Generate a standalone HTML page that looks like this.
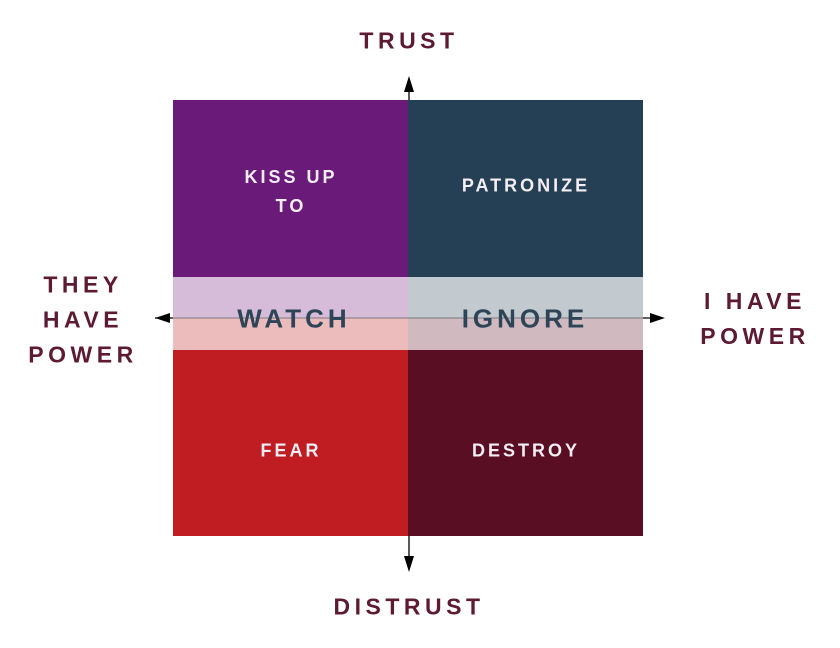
<!DOCTYPE html>
<html><head><meta charset="utf-8"><style>
html,body{margin:0;padding:0;background:#fff;}
body{width:840px;height:648px;position:relative;overflow:hidden;font-family:"Liberation Sans",sans-serif;}
.r{position:absolute;}
.t{position:absolute;transform:translate(-50%,-50%);white-space:nowrap;letter-spacing:3px;text-align:center;font-weight:bold;}
.w{color:#f4eef4;font-size:18px;}
.m{color:#5c1a33;font-size:23px;letter-spacing:4.5px;line-height:35px;}
.b{color:#2e4457;font-size:26px;letter-spacing:4px;}
</style></head><body>
<div class="r" style="left:173px;top:100px;width:235px;height:177px;background:#6a1b7a"></div>
<div class="r" style="left:408px;top:100px;width:235px;height:177px;background:#253f55"></div>
<div class="r" style="left:173px;top:277px;width:235px;height:41px;background:#d7bcd9"></div>
<div class="r" style="left:408px;top:277px;width:235px;height:41px;background:#c2c9cf"></div>
<div class="r" style="left:173px;top:318px;width:235px;height:32px;background:#ecbcbd"></div>
<div class="r" style="left:408px;top:318px;width:235px;height:32px;background:#d0b9bf"></div>
<div class="r" style="left:173px;top:350px;width:235px;height:186px;background:#c01d23"></div>
<div class="r" style="left:408px;top:350px;width:235px;height:186px;background:#5a0e24"></div>
<svg class="r" style="left:0;top:0" width="840" height="648">
<line x1="409" y1="85" x2="409" y2="100" stroke="#000" stroke-width="1.3"/>
<line x1="409" y1="536" x2="409" y2="563" stroke="#000" stroke-width="1.3"/>
<polygon points="409,76 404,92 414,92" fill="#000"/>
<polygon points="409,572 404,556 414,556" fill="#000"/>
<line x1="173" y1="318" x2="643" y2="318" stroke="#7a7a80" stroke-width="1"/>
<line x1="155" y1="318" x2="173" y2="318" stroke="#000" stroke-width="1.3"/>
<line x1="643" y1="318" x2="662" y2="318" stroke="#000" stroke-width="1.3"/>
<polygon points="155,318 170,313 170,323" fill="#000"/>
<polygon points="665,318 650,313 650,323" fill="#000"/>
</svg>
<div class="t w" style="left:291px;top:192px;line-height:29px">KISS UP<br>TO</div>
<div class="t w" style="left:526px;top:186px">PATRONIZE</div>
<div class="t w" style="left:291px;top:451px">FEAR</div>
<div class="t w" style="left:526px;top:451px">DESTROY</div>
<div class="t b" style="left:294px;top:319px">WATCH</div>
<div class="t b" style="left:525px;top:319px">IGNORE</div>
<div class="t m" style="left:409px;top:41px">TRUST</div>
<div class="t m" style="left:409px;top:607px">DISTRUST</div>
<div class="t m" style="left:83px;top:320px">THEY<br>HAVE<br>POWER</div>
<div class="t m" style="left:755px;top:319px">I HAVE<br>POWER</div>
</body></html>
